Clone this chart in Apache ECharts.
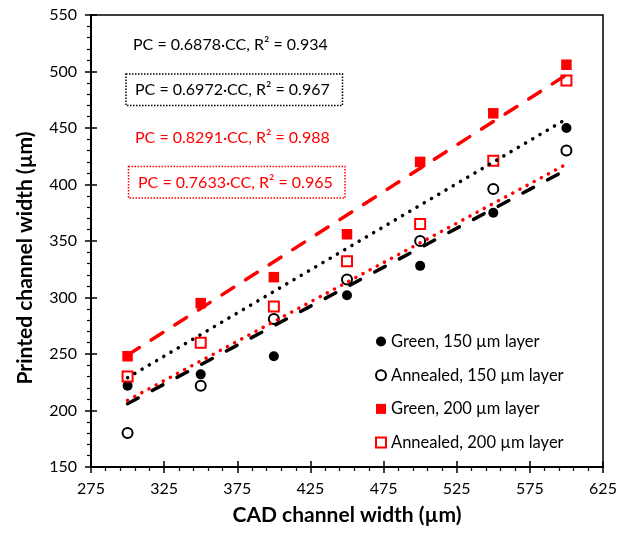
<!DOCTYPE html>
<html>
<head>
<meta charset="utf-8">
<script src="https://cdn.jsdelivr.net/npm/echarts@6/dist/echarts.min.js"></script>
<style>
html,body{margin:0;padding:0;background:#fff;}
#chart{width:627px;height:533px;}
</style>
</head>
<body>
<div id="chart"></div>
<script>
// CAD channel width (x) values
const cadWidths = [300, 350, 400, 450, 500, 550, 600];
// Printed channel width values
const green150 = [222, 232, 248, 302, 328, 375, 450];
const annealed150 = [180, 222, 281, 316, 350, 396, 430];
const green200 = [248, 295, 318, 356, 420, 463, 506];
const annealed200 = [230, 260, 292, 332, 365, 421, 492];
// Trend line endpoints (x = 300 and x = 600)
const trendX = [300, 600];
const trendBlackDashed = [206, 413];
const trendBlackDotted = [229, 458];
const trendRedDashed = [249, 497];
const trendRedDotted = [209, 418];
// Annotation texts
const annotations = [
  'PC = 0.6878·CC, R² = 0.934',
  'PC = 0.6972·CC, R² = 0.967',
  'PC = 0.8291·CC, R² = 0.988',
  'PC = 0.7633·CC, R² = 0.965'
];
const seriesNames = ['Green, 150 µm layer', 'Annealed, 150 µm layer', 'Green, 200 µm layer', 'Annealed, 200 µm layer'];

const FONT = 'Lato';
const zip = (xs, ys) => xs.map((x, i) => [x, ys[i]]);

const chart = echarts.init(document.getElementById('chart'), null, {renderer: 'canvas'});

function scatter(name, data, symbol, color, size) {
  return {
    name: name, type: 'scatter', data: zip(cadWidths, data), symbol: symbol, symbolSize: size,
    itemStyle: symbol.startsWith('empty') ? {color: color, borderColor: color, borderWidth: 1.8, opacity: 1} : {color: color, opacity: 1},
    z: 3, silent: true
  };
}
function trend(data, color, dash) {
  return {
    type: 'line', data: zip(trendX, data), symbol: 'none', silent: true, z: 4,
    lineStyle: {color: color, width: 3.5, type: dash, cap: 'round'}
  };
}

const option = {
  animation: false,
  backgroundColor: '#fff',
  textStyle: {fontFamily: FONT},
  grid: {left: 91, right: 24, top: 15, bottom: 66, show: true, borderColor: '#000', borderWidth: 1.5},
  xAxis: [{
    type: 'value', min: 275, max: 625, interval: 50,
    name: 'CAD channel width (µm)', nameLocation: 'middle', nameGap: 38,
    nameTextStyle: {fontFamily: FONT, fontSize: 21, fontWeight: 'bold', color: '#000'},
    axisLine: {show: true, onZero: false, lineStyle: {color: '#000', width: 2}},
    axisTick: {show: true, length: 6, lineStyle: {color: '#000', width: 1.5}},
    minorTick: {show: true, splitNumber: 5, length: 4, lineStyle: {color: '#000', width: 1.2}},
    axisLabel: {fontFamily: FONT, fontSize: 16, color: '#000', margin: 14},
    splitLine: {show: false}
  }, {
    type: 'value', min: 275, max: 625, interval: 50, position: 'bottom',
    axisLine: {show: false, onZero: false},
    axisTick: {show: true, inside: true, length: 6, lineStyle: {color: '#000', width: 1.5}},
    axisLabel: {show: false}, splitLine: {show: false}
  }],
  yAxis: [{
    type: 'value', min: 150, max: 550, interval: 50,
    axisLine: {show: true, onZero: false, lineStyle: {color: '#000', width: 2}},
    axisTick: {show: true, length: 6, lineStyle: {color: '#000', width: 1.5}},
    minorTick: {show: true, splitNumber: 5, length: 4, lineStyle: {color: '#000', width: 1.2}},
    axisLabel: {fontFamily: FONT, fontSize: 16, color: '#000', margin: 14},
    splitLine: {show: false}
  }, {
    type: 'value', min: 150, max: 550, interval: 50, position: 'left',
    axisLine: {show: false, onZero: false},
    axisTick: {show: true, inside: true, length: 6, lineStyle: {color: '#000', width: 1.5}},
    axisLabel: {show: false}, splitLine: {show: false}
  }],
  legend: {
    orient: 'vertical', left: 370, top: 328, itemWidth: 10, itemHeight: 10, itemGap: 16.7, itemTextGap: 6,
    textStyle: {fontFamily: FONT, fontSize: 16.5, color: '#000', lineHeight: 17},
    data: seriesNames, selectedMode: false
  },
  series: [
    scatter(seriesNames[0], green150, 'circle', '#000', 10),
    scatter(seriesNames[1], annealed150, 'emptyCircle', '#000', 10),
    scatter(seriesNames[2], green200, 'rect', '#ff0000', 10.5),
    scatter(seriesNames[3], annealed200, 'emptyRect', '#ff0000', 10),
    trend(trendBlackDashed, '#000', [12, 16]),
    trend(trendBlackDotted, '#000', [0.1, 8.3]),
    trend(trendRedDashed, '#ff0000', [14, 14]),
    trend(trendRedDotted, '#ff0000', [0.1, 8])
  ],
  graphic: [
    {type: 'text', position: [25, 258], rotation: Math.PI / 2, silent: true,
     style: {text: 'Printed channel width (µm)', fontFamily: FONT, fontSize: 21, fontWeight: 'bold', fill: '#000', textAlign: 'center', textVerticalAlign: 'middle'}},
    {type: 'text', position: [133, 45], silent: true,
     style: {text: annotations[0], fontFamily: FONT, fontSize: 16, fill: '#000', textVerticalAlign: 'middle'}},
    {type: 'rect', shape: {x: 126, y: 74, width: 216.5, height: 31.5}, silent: true,
     style: {fill: 'none', stroke: '#000', lineWidth: 1.5, lineDash: [1.5, 1.5]}},
    {type: 'text', position: [135, 90], silent: true,
     style: {text: annotations[1], fontFamily: FONT, fontSize: 16, fill: '#000', textVerticalAlign: 'middle'}},
    {type: 'text', position: [135, 138], silent: true,
     style: {text: annotations[2], fontFamily: FONT, fontSize: 16, fill: '#ff0000', textVerticalAlign: 'middle'}},
    {type: 'rect', shape: {x: 128.5, y: 166.5, width: 216.5, height: 31.5}, silent: true,
     style: {fill: 'none', stroke: '#ff0000', lineWidth: 1.5, lineDash: [1.5, 1.5]}},
    {type: 'text', position: [138, 183], silent: true,
     style: {text: annotations[3], fontFamily: FONT, fontSize: 16, fill: '#ff0000', textVerticalAlign: 'middle'}}
  ]
};
chart.setOption(option);
</script>
</body>
</html>
